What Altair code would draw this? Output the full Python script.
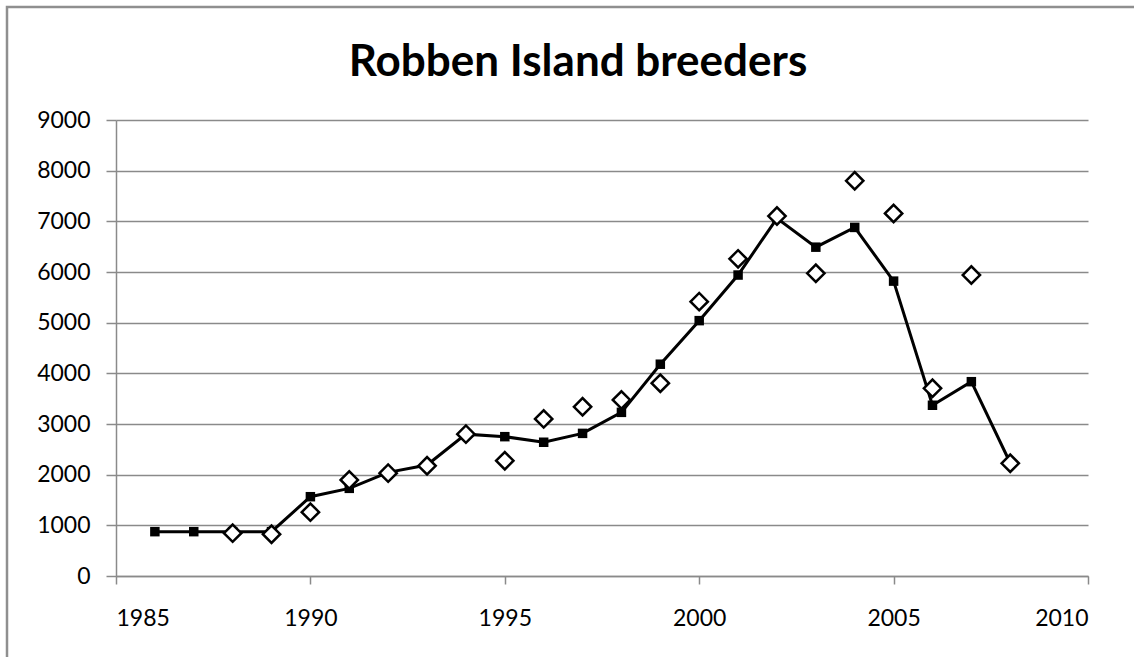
import altair as alt
import pandas as pd

# Data
line_years = [1986, 1987, 1988, 1989, 1990, 1991, 1992, 1993, 1994, 1995, 1996, 1997,
              1998, 1999, 2000, 2001, 2002, 2003, 2004, 2005, 2006, 2007, 2008]
line_values = [875, 875, 875, 875, 1565, 1730, 2045, 2190, 2800, 2750, 2640, 2815,
               3230, 4180, 5040, 5940, 7060, 6490, 6880, 5820, 3370, 3835, 2230]

diamond_years = [1988, 1989, 1990, 1991, 1992, 1993, 1994, 1995, 1996, 1997, 1998,
                 1999, 2000, 2001, 2002, 2003, 2004, 2005, 2006, 2007, 2008]
diamond_values = [845, 825, 1260, 1895, 2030, 2175, 2800, 2275, 3100, 3340, 3475,
                  3805, 5415, 6260, 7105, 5975, 7800, 7155, 3705, 5940, 2225]

x_ticks = [1985, 1990, 1995, 2000, 2005, 2010]
y_ticks = [0, 1000, 2000, 3000, 4000, 5000, 6000, 7000, 8000, 9000]

line_df = pd.DataFrame({"year": line_years, "value": line_values})
dia_df = pd.DataFrame({"year": diamond_years, "value": diamond_values})

FONT = "Lato"
GRAY = "#8a8a8a"

x_enc = alt.X("year:Q", scale=alt.Scale(domain=[1985, 2010], nice=False, zero=False),
              axis=alt.Axis(values=x_ticks, format="d", title=None, grid=False,
                            domainColor=GRAY, tickColor=GRAY, tickSize=8,
                            labelFontSize=23, labelFont=FONT, labelColor="#000000",
                            labelPadding=23, domainWidth=1.5, tickWidth=1.5))
y_enc = alt.Y("value:Q", scale=alt.Scale(domain=[0, 9000], nice=False),
              axis=alt.Axis(values=y_ticks, format="d", title=None, grid=True,
                            gridColor=GRAY, gridWidth=1.5, domainColor=GRAY,
                            tickColor=GRAY, tickSize=10,
                            labelFontSize=23, labelFont=FONT, labelColor="#000000",
                            labelPadding=16, domainWidth=1.5, tickWidth=1.5))

line = alt.Chart(line_df).mark_line(color="#000000", strokeWidth=3).encode(x=x_enc, y=y_enc)
squares = alt.Chart(line_df).mark_point(shape="square", filled=True, color="#000000",
                                        size=90, opacity=1).encode(x="year:Q", y="value:Q")
diamonds = alt.Chart(dia_df).mark_point(shape="diamond", filled=True, fill="#ffffff",
                                        stroke="#000000", strokeWidth=2.5, size=300,
                                        opacity=1).encode(x="year:Q", y="value:Q")

frame = alt.Chart(alt.Data(values=[{}])).mark_rect(
    fillOpacity=0, stroke="#8f8f8f", strokeWidth=2.5
).encode(x=alt.value(-109), x2=alt.value(1030), y=alt.value(-113), y2=alt.value(550))

chart = alt.layer(line, squares, diamonds, frame).properties(
    width=972, height=456,
    autosize=alt.AutoSizeParams(type="none"),
    padding={"left": 116, "top": 120, "right": 46, "bottom": 81},
    title=alt.TitleParams("Robben Island breeders", font=FONT, fontSize=44,
                          fontWeight="bold", color="#000000", anchor="middle",
                          dx=-24, offset=-114, baseline="alphabetic"),
    background="#ffffff",
).configure_view(strokeWidth=0)

chart.save("out.html", embed_options={"renderer": "svg", "actions": False})
